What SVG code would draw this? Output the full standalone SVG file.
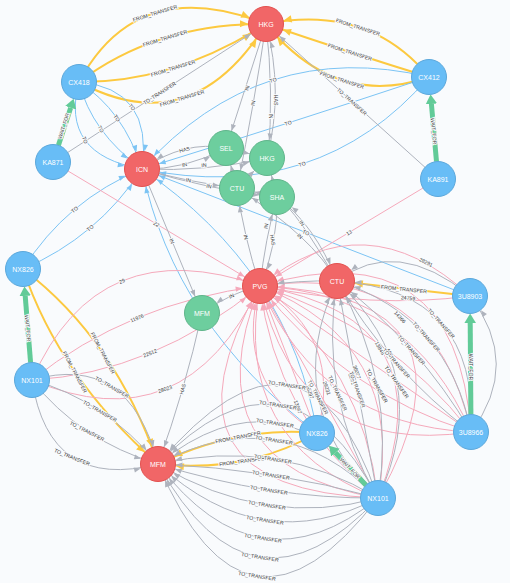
<svg xmlns="http://www.w3.org/2000/svg" width="510" height="583" viewBox="0 0 510 583">
<style>
.bg{fill:#f9fbfd}
.y,.b,.p,.g,.w{fill:none}
.y{stroke:#fcc940;stroke-width:2;marker-end:url(#my)}
.b{stroke:#7cc4f4;stroke-width:1;marker-end:url(#mb)}
.p{stroke:#f5a9bb;stroke-width:1;marker-end:url(#mp)}
.g{stroke:#aeb3bd;stroke-width:1;marker-end:url(#mg)}
.w{stroke:#62cb98;stroke-width:5;marker-end:url(#mw)}
.l{font-family:"Liberation Sans",Arial,sans-serif;font-size:5.2px;fill:#3a3a3a;text-anchor:middle;dominant-baseline:central;stroke:#f9fbfd;stroke-width:1.8px;paint-order:stroke}
.red{fill:#f16667;stroke:#e3514f;stroke-width:1}
.blue{fill:#68bdf6;stroke:#5ca8db;stroke-width:1}
.green{fill:#6dce9e;stroke:#60b58b;stroke-width:1}
.nt{font-family:"Liberation Sans",Arial,sans-serif;font-size:7px;fill:#ffffff;text-anchor:middle;dominant-baseline:central}
</style>
<defs>
<marker id="mg" viewBox="0 -5 30 10" refX="29" refY="0" markerWidth="30" markerHeight="10" markerUnits="userSpaceOnUse" orient="auto"><path d="M11 0 L4.5 -2.6 L4.5 2.6Z" fill="#aeb3bd"/></marker>
<marker id="mb" viewBox="0 -5 30 10" refX="29" refY="0" markerWidth="30" markerHeight="10" markerUnits="userSpaceOnUse" orient="auto"><path d="M11 0 L4.5 -2.6 L4.5 2.6Z" fill="#7cc4f4"/></marker>
<marker id="mp" viewBox="0 -5 30 10" refX="29" refY="0" markerWidth="30" markerHeight="10" markerUnits="userSpaceOnUse" orient="auto"><path d="M11 0 L4.5 -2.6 L4.5 2.6Z" fill="#f5a9bb"/></marker>
<marker id="my" viewBox="0 -5 30 10" refX="29" refY="0" markerWidth="30" markerHeight="10" markerUnits="userSpaceOnUse" orient="auto"><path d="M11 0 L3 -3.6 L3 3.6Z" fill="#fcc940"/></marker>
<marker id="mw" viewBox="0 -7 12 14" refX="0" refY="0" markerWidth="12" markerHeight="14" markerUnits="userSpaceOnUse" orient="auto"><path d="M0 -5.8 L9.5 0 L0 5.8Z" fill="#62cb98"/></marker>
</defs>
<rect class="bg" x="0" y="0" width="510" height="583"/>
<g id="connectors">
<path class="y" d="M79 82Q137.5 -27 266 24"/>
<path class="y" d="M79 82Q157.5 23 266 24"/>
<path class="y" d="M79 82Q173.5 83 266 24"/>
<path class="y" d="M79 82Q191.5 143 266 24"/>
<path class="y" d="M429 77Q368.5 3.5 266 24"/>
<path class="y" d="M429 77Q352.5 53.5 266 24"/>
<path class="y" d="M429 77Q336.5 109.5 266 24"/>
<path class="y" d="M23 269Q115.5 339.5 158 464"/>
<path class="y" d="M23 269Q59.5 377.5 158 464"/>
<path class="y" d="M317 433Q238.5 425.5 158 464"/>
<path class="y" d="M317 433Q246.5 473.5 158 464"/>
<path class="y" d="M470 296L337 281"/>
<path class="b" d="M79 82Q59.5 154.5 142 169"/>
<path class="b" d="M79 82Q91.5 132.5 142 169"/>
<path class="b" d="M79 82Q123.5 110.5 142 169"/>
<path class="b" d="M79 82Q153.5 88.5 142 169"/>
<path class="b" d="M429 77Q260.5 37 142 169"/>
<path class="b" d="M429 77Q290.5 123 142 169"/>
<path class="b" d="M429 77Q318.5 205 142 169"/>
<path class="b" d="M23 269Q66.5 200 142 169"/>
<path class="b" d="M23 269Q97.5 237 142 169"/>
<path class="b" d="M470 296L142 169"/>
<path class="b" d="M317 433Q174.5 325 142 169"/>
<path class="b" d="M317 433Q290.5 271 142 169"/>
<path class="p" d="M53 162L260 286"/>
<path class="p" d="M438 179L260 286"/>
<path class="p" d="M32 380Q98 229 260 286"/>
<path class="p" d="M32 380Q128 303 260 286"/>
<path class="p" d="M32 380Q154 373 260 286"/>
<path class="p" d="M32 380Q184 445 260 286"/>
<path class="p" d="M470 296Q375 309 260 286"/>
<path class="p" d="M470 296Q365 199 260 286"/>
<path class="p" d="M378 498Q144.2 489.2 260 286"/>
<path class="p" d="M378 498Q187.9 465 260 286"/>
<path class="p" d="M378 498Q231.6 440.6 260 286"/>
<path class="p" d="M378 498Q275.3 416.3 260 286"/>
<path class="p" d="M378 498Q319 392 260 286"/>
<path class="p" d="M378 498Q362.7 367.7 260 286"/>
<path class="p" d="M378 498Q406.4 343.4 260 286"/>
<path class="p" d="M378 498Q450.1 319.1 260 286"/>
<path class="p" d="M378 498Q493.8 294.8 260 286"/>
<path class="p" d="M471 432Q456.5 227.5 260 286"/>
<path class="p" d="M471 432Q433.8 260.4 260 286"/>
<path class="p" d="M471 432Q411 293.2 260 286"/>
<path class="p" d="M471 432Q388.3 326.1 260 286"/>
<path class="p" d="M471 432Q365.5 359 260 286"/>
<path class="p" d="M471 432Q342.7 391.9 260 286"/>
<path class="p" d="M471 432Q320 424.8 260 286"/>
<path class="p" d="M471 432Q297.2 457.6 260 286"/>
<path class="p" d="M317 433Q232.6 381.2 260 286"/>
<path class="p" d="M317 433Q288.5 359.5 260 286"/>
<path class="p" d="M317 433Q344.4 337.8 260 286"/>
<path class="g" d="M53 162L266 24"/>
<path class="g" d="M438 179L266 24"/>
<path class="g" d="M266 24L226 148"/>
<path class="g" d="M266 24Q255 100 237 188"/>
<path class="g" d="M266 24Q274 91 268 158"/>
<path class="g" d="M267 158Q284 91 266 24"/>
<path class="g" d="M226 148Q185 140 142 169"/>
<path class="g" d="M142 169Q185 170 226 148"/>
<path class="g" d="M142 169Q205 172 267 158"/>
<path class="g" d="M142 169Q188 182 237 188"/>
<path class="g" d="M142 169Q210 190 277 197"/>
<path class="g" d="M226 148L267 158"/>
<path class="g" d="M237 188L226 148"/>
<path class="g" d="M277 197L267 158"/>
<path class="g" d="M277 197L237 188"/>
<path class="g" d="M237 188L267 158"/>
<path class="g" d="M142 169L202 313"/>
<path class="g" d="M260 286Q232 292 202 313"/>
<path class="g" d="M202 313Q185 390 158 464"/>
<path class="g" d="M260 286Q244 237 237 188"/>
<path class="g" d="M260 286Q265 240 277 197"/>
<path class="g" d="M277 197Q278 245 260 286"/>
<path class="g" d="M337 281Q297 211 277 197"/>
<path class="g" d="M337 281Q313 237.5 237 188"/>
<path class="g" d="M277 197Q315 225 337 281"/>
<path class="g" d="M337 281Q298 280 260 286"/>
<path class="g" d="M32 380Q129 352 158 464"/>
<path class="g" d="M32 380Q105 400 158 464"/>
<path class="g" d="M32 380Q79 440 158 464"/>
<path class="g" d="M32 380Q49 492 158 464"/>
<path class="g" d="M378 498Q306 289 158 464"/>
<path class="g" d="M378 498Q288 329 158 464"/>
<path class="g" d="M378 498Q282 365 158 464"/>
<path class="g" d="M378 498Q280 399 158 464"/>
<path class="g" d="M378 498Q278 437 158 464"/>
<path class="g" d="M378 498Q274 469 158 464"/>
<path class="g" d="M378 498Q270 499 158 464"/>
<path class="g" d="M378 498Q266 529 158 464"/>
<path class="g" d="M378 498Q262 559 158 464"/>
<path class="g" d="M378 498Q258 595 158 464"/>
<path class="g" d="M378 498Q252 633 158 464"/>
<path class="g" d="M378 498Q246 671 158 464"/>
<path class="g" d="M378 498Q278.9 404.4 337 281"/>
<path class="g" d="M378 498Q318.2 397 337 281"/>
<path class="g" d="M378 498Q357.5 389.5 337 281"/>
<path class="g" d="M378 498Q396.8 382 337 281"/>
<path class="g" d="M378 498Q436.1 374.6 337 281"/>
<path class="g" d="M471 432Q478.8 290.1 337 281"/>
<path class="g" d="M471 432Q448.9 316.7 337 281"/>
<path class="g" d="M471 432Q419 343.2 337 281"/>
<path class="g" d="M471 432Q389 369.8 337 281"/>
<path class="g" d="M470 296Q396.5 235.5 337 281"/>
<path class="g" d="M471 432Q522 364 470 296"/>
<path class="w" d="M58.4 145.4L70.7 107.7"/>
<path class="w" d="M436.5 161.6L431.4 103.9"/>
<path class="w" d="M30.6 362.6L25.2 295.9"/>
<path class="w" d="M470.9 414.5L470.2 323"/>
<path class="w" d="M366 485.2L335.5 452.7"/>
<text class="l" transform="translate(155 13) rotate(-17)">FROM_TRANSFER</text>
<text class="l" transform="translate(165 38) rotate(-17)">FROM_TRANSFER</text>
<text class="l" transform="translate(173 68) rotate(-17)">FROM_TRANSFER</text>
<text class="l" transform="translate(182 98) rotate(-17)">FROM_TRANSFER</text>
<text class="l" transform="translate(358 27) rotate(18)">FROM_TRANSFER</text>
<text class="l" transform="translate(350 52) rotate(18)">FROM_TRANSFER</text>
<text class="l" transform="translate(342 80) rotate(18)">FROM_TRANSFER</text>
<text class="l" transform="translate(103 353) rotate(62)">FROM_TRANSFER</text>
<text class="l" transform="translate(75 372) rotate(62)">FROM_TRANSFER</text>
<text class="l" transform="translate(238 437) rotate(-11)">FROM_TRANSFER</text>
<text class="l" transform="translate(242 461) rotate(-8)">FROM_TRANSFER</text>
<text class="l" transform="translate(404 289) rotate(6)">FROM_TRANSFER</text>
<text class="l" transform="translate(85 140) rotate(70)">TO</text>
<text class="l" transform="translate(101 129) rotate(62)">TO</text>
<text class="l" transform="translate(117 118) rotate(56)">TO</text>
<text class="l" transform="translate(132 107) rotate(48)">TO</text>
<text class="l" transform="translate(273 80) rotate(-18)">TO</text>
<text class="l" transform="translate(288 123) rotate(-18)">TO</text>
<text class="l" transform="translate(302 164) rotate(-18)">TO</text>
<text class="l" transform="translate(74.5 209.5) rotate(-40)">TO</text>
<text class="l" transform="translate(90 228) rotate(-40)">TO</text>
<text class="l" transform="translate(306 232.5) rotate(21)">TO</text>
<text class="l" transform="translate(156.5 224) rotate(31)">22</text>
<text class="l" transform="translate(349 232.5) rotate(-31)">13</text>
<text class="l" transform="translate(122 281) rotate(-22)">29</text>
<text class="l" transform="translate(137 318) rotate(-22)">11976</text>
<text class="l" transform="translate(150 353) rotate(-22)">22512</text>
<text class="l" transform="translate(165 389) rotate(-18)">28023</text>
<text class="l" transform="translate(408 298) rotate(5)">24759</text>
<text class="l" transform="translate(426 262) rotate(26)">28291</text>
<text class="l" transform="translate(400 317) rotate(48)">14366</text>
<text class="l" transform="translate(380 348) rotate(60)">13846</text>
<text class="l" transform="translate(391 355) rotate(62)">40513</text>
<text class="l" transform="translate(357 372) rotate(70)">36077</text>
<text class="l" transform="translate(352 379) rotate(70)">8891</text>
<text class="l" transform="translate(327 388) rotate(70)">29231</text>
<text class="l" transform="translate(339 396) rotate(70)">3875</text>
<text class="l" transform="translate(310 392) rotate(70)">26297</text>
<text class="l" transform="translate(298 407) rotate(70)">13667</text>
<text class="l" transform="translate(159.5 93) rotate(-33)">TO_TRANSFER</text>
<text class="l" transform="translate(352 101.5) rotate(42)">TO_TRANSFER</text>
<text class="l" transform="translate(247 88) rotate(-72)">IN</text>
<text class="l" transform="translate(253 103) rotate(-80)">IN</text>
<text class="l" transform="translate(270.5 116) rotate(90)">IN</text>
<text class="l" transform="translate(276 100) rotate(90)">HAS</text>
<text class="l" transform="translate(184.5 149.5) rotate(-14)">HAS</text>
<text class="l" transform="translate(184.5 164.5) rotate(-14)">IN</text>
<text class="l" transform="translate(204 165) rotate(-5)">IN</text>
<text class="l" transform="translate(188.5 180) rotate(11)">IN</text>
<text class="l" transform="translate(209 186) rotate(12)">IN</text>
<text class="l" transform="translate(172 241) rotate(67)">IN</text>
<text class="l" transform="translate(231.5 296) rotate(-25)">IN</text>
<text class="l" transform="translate(182.5 389) rotate(-74)">HAS</text>
<text class="l" transform="translate(246 237) rotate(77)">IN</text>
<text class="l" transform="translate(266 226) rotate(-80)">IN</text>
<text class="l" transform="translate(273 240) rotate(80)">HAS</text>
<text class="l" transform="translate(302 223) rotate(55)">IN</text>
<text class="l" transform="translate(300 236) rotate(43)">IN</text>
<text class="l" transform="translate(112 387) rotate(30)">TO_TRANSFER</text>
<text class="l" transform="translate(100 411) rotate(30)">TO_TRANSFER</text>
<text class="l" transform="translate(87 431) rotate(27)">TO_TRANSFER</text>
<text class="l" transform="translate(72 457) rotate(22)">TO_TRANSFER</text>
<text class="l" transform="translate(287 385) rotate(9)">TO_TRANSFER</text>
<text class="l" transform="translate(278 405) rotate(9)">TO_TRANSFER</text>
<text class="l" transform="translate(275 423) rotate(9)">TO_TRANSFER</text>
<text class="l" transform="translate(274 440) rotate(9)">TO_TRANSFER</text>
<text class="l" transform="translate(273 459) rotate(9)">TO_TRANSFER</text>
<text class="l" transform="translate(271 475) rotate(9)">TO_TRANSFER</text>
<text class="l" transform="translate(269 490) rotate(9)">TO_TRANSFER</text>
<text class="l" transform="translate(267 505) rotate(9)">TO_TRANSFER</text>
<text class="l" transform="translate(265 520) rotate(9)">TO_TRANSFER</text>
<text class="l" transform="translate(263 538) rotate(9)">TO_TRANSFER</text>
<text class="l" transform="translate(260 557) rotate(9)">TO_TRANSFER</text>
<text class="l" transform="translate(257 576) rotate(9)">TO_TRANSFER</text>
<text class="l" transform="translate(318.2 397) rotate(62)">TO_TRANSFER</text>
<text class="l" transform="translate(337.8 393.2) rotate(65)">TO_TRANSFER</text>
<text class="l" transform="translate(357.5 389.5) rotate(70)">TO_TRANSFER</text>
<text class="l" transform="translate(377.2 385.8) rotate(60)">TO_TRANSFER</text>
<text class="l" transform="translate(396.8 382) rotate(55)">TO_TRANSFER</text>
<text class="l" transform="translate(441.4 323.3) rotate(48)">TO_TRANSFER</text>
<text class="l" transform="translate(426.4 336.6) rotate(48)">TO_TRANSFER</text>
<text class="l" transform="translate(411.5 349.9) rotate(48)">TO_TRANSFER</text>
<text class="l" transform="translate(396.5 363.1) rotate(48)">TO_TRANSFER</text>
<text class="l" transform="translate(63.5 126) rotate(-72)">WAIT_FOR</text>
<text class="l" transform="translate(434 131) rotate(85)">WAIT_FOR</text>
<text class="l" transform="translate(28 328) rotate(85)">WAIT_FOR</text>
<text class="l" transform="translate(470.5 367) rotate(90)">WAIT_FOR</text>
<text class="l" transform="translate(350 468) rotate(47)">WAIT_FOR</text>
</g>
<g id="n-HKG-airport"><circle class="red" cx="266" cy="24" r="17.5"/><text class="nt" x="266" y="24">HKG</text></g>
<g id="n-CX418"><circle class="blue" cx="79" cy="82" r="17.5"/><text class="nt" x="79" y="82">CX418</text></g>
<g id="n-CX412"><circle class="blue" cx="429" cy="77" r="17.5"/><text class="nt" x="429" y="77">CX412</text></g>
<g id="n-KA871"><circle class="blue" cx="53" cy="162" r="17.5"/><text class="nt" x="53" y="162">KA871</text></g>
<g id="n-KA891"><circle class="blue" cx="438" cy="179" r="17.5"/><text class="nt" x="438" y="179">KA891</text></g>
<g id="n-ICN"><circle class="red" cx="142" cy="169" r="17.5"/><text class="nt" x="142" y="169">ICN</text></g>
<g id="n-SEL"><circle class="green" cx="226" cy="148" r="17.5"/><text class="nt" x="226" y="148">SEL</text></g>
<g id="n-HKG-city"><circle class="green" cx="267" cy="158" r="17.5"/><text class="nt" x="267" y="158">HKG</text></g>
<g id="n-CTU-city"><circle class="green" cx="237" cy="188" r="17.5"/><text class="nt" x="237" y="188">CTU</text></g>
<g id="n-SHA"><circle class="green" cx="277" cy="197" r="17.5"/><text class="nt" x="277" y="197">SHA</text></g>
<g id="n-NX826-a"><circle class="blue" cx="23" cy="269" r="17.5"/><text class="nt" x="23" y="269">NX826</text></g>
<g id="n-PVG"><circle class="red" cx="260" cy="286" r="17.5"/><text class="nt" x="260" y="286">PVG</text></g>
<g id="n-CTU-airport"><circle class="red" cx="337" cy="281" r="17.5"/><text class="nt" x="337" y="281">CTU</text></g>
<g id="n-MFM-city"><circle class="green" cx="202" cy="313" r="17.5"/><text class="nt" x="202" y="313">MFM</text></g>
<g id="n-3U8903"><circle class="blue" cx="470" cy="296" r="17.5"/><text class="nt" x="470" y="296">3U8903</text></g>
<g id="n-NX101-a"><circle class="blue" cx="32" cy="380" r="17.5"/><text class="nt" x="32" y="380">NX101</text></g>
<g id="n-MFM-airport"><circle class="red" cx="158" cy="464" r="17.5"/><text class="nt" x="158" y="464">MFM</text></g>
<g id="n-NX826-b"><circle class="blue" cx="317" cy="433" r="17.5"/><text class="nt" x="317" y="433">NX826</text></g>
<g id="n-3U8966"><circle class="blue" cx="471" cy="432" r="17.5"/><text class="nt" x="471" y="432">3U8966</text></g>
<g id="n-NX101-b"><circle class="blue" cx="378" cy="498" r="17.5"/><text class="nt" x="378" y="498">NX101</text></g>
</svg>
